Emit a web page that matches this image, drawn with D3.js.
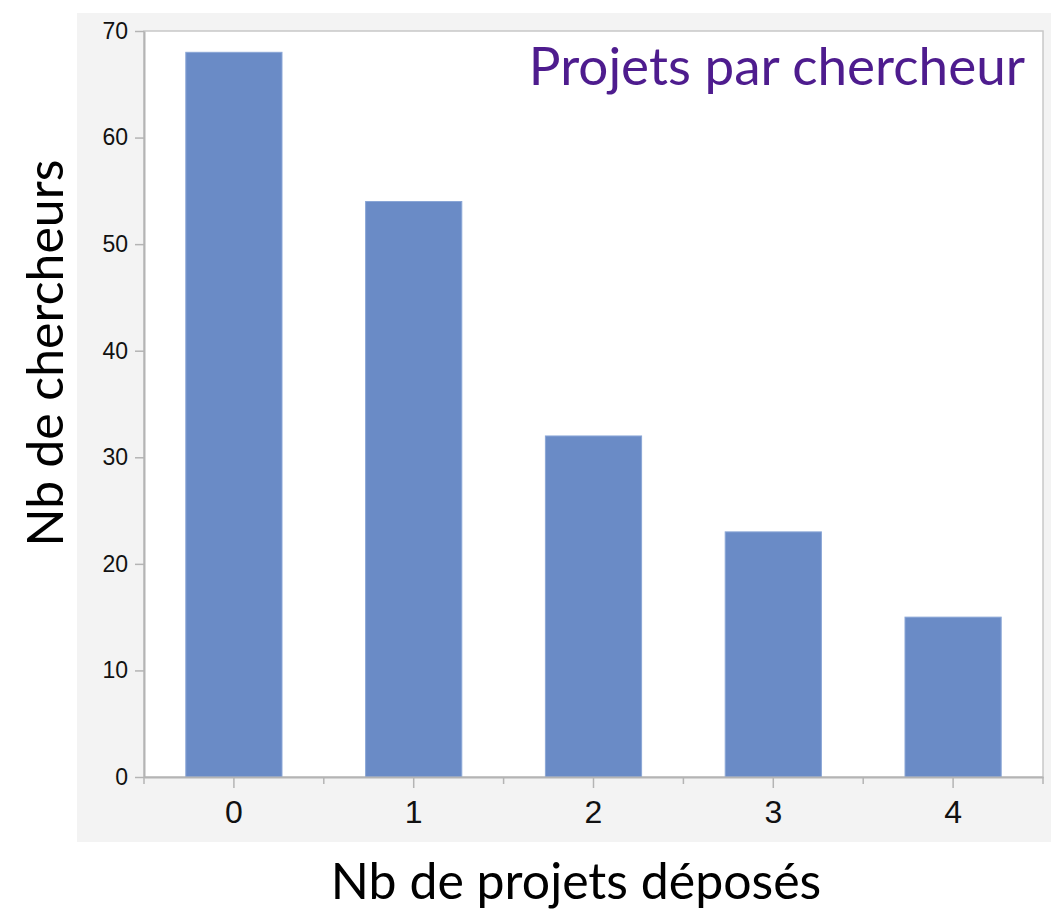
<!DOCTYPE html>
<html><head><meta charset="utf-8">
<script src="https://cdn.jsdelivr.net/npm/d3@7"></script>
<style>body{margin:0;background:#fff}svg{display:block}</style>
</head><body>
<svg id="c" width="1051" height="913"></svg>
<script>
const categories = ["0","1","2","3","4"];
const values = [68, 54, 32, 23, 15];
const yTicks = [0,10,20,30,40,50,60,70];
const title = "Projets par chercheur";
const xTitle = "Nb de projets déposés";
const yTitle = "Nb de chercheurs";

const svg = d3.select("#c");
const m = {l:144, r:1043, t:31, b:777};
svg.append("rect").attr("x",77).attr("y",13).attr("width",974).attr("height",829).attr("fill","#f3f3f3");
svg.append("rect").attr("x",m.l).attr("y",m.t).attr("width",m.r-m.l).attr("height",m.b-m.t).attr("fill","#fff").attr("stroke","#c8c8c8").attr("stroke-width",1.5);

const x = d3.scaleBand().domain(categories).range([m.l,m.r]).paddingInner(0.465).paddingOuter(0.2325);
const y = d3.scaleLinear().domain([0,70]).range([m.b,m.t]);

svg.selectAll("rect.bar").data(values).join("rect").attr("class","bar")
  .attr("x",(d,i)=>x(categories[i])).attr("width",x.bandwidth())
  .attr("y",d=>y(d)).attr("height",d=>y(0)-y(d))
  .attr("fill","#6a8bc6").attr("stroke","#8aa6d6").attr("stroke-width",1);

const ya = svg.append("g").attr("transform",`translate(${m.l},0)`)
  .call(d3.axisLeft(y).tickValues(yTicks).tickSize(11).tickPadding(5).tickSizeOuter(0));
ya.select(".domain").attr("stroke","#b4b4b4").attr("stroke-width",2);
ya.selectAll(".tick line").attr("stroke","#b4b4b4").attr("stroke-width",1.5).attr("x2",-9);
ya.selectAll(".tick text").attr("font-family","Liberation Sans, Arial, sans-serif").attr("font-size",23).attr("fill","#111");

const xa = svg.append("g").attr("transform",`translate(0,${m.b})`)
  .call(d3.axisBottom(x).tickSize(11).tickPadding(12).tickSizeOuter(0));
xa.select(".domain").attr("stroke","#b4b4b4").attr("stroke-width",2);
xa.selectAll(".tick line").attr("stroke","#b4b4b4").attr("stroke-width",1.5);
xa.selectAll(".tick text").attr("font-family","Liberation Sans, Arial, sans-serif").attr("font-size",32).attr("fill","#111");
// boundary ticks between categories
const bounds = d3.range(categories.length+1).map(i => i===0 ? m.l : (i===categories.length ? m.r : (x(categories[i-1])+x.bandwidth()+x(categories[i]))/2));
xa.selectAll("line.b").data(bounds).join("line").attr("class","b")
  .attr("x1",d=>d).attr("x2",d=>d).attr("y1",0).attr("y2",7)
  .attr("stroke","#b4b4b4").attr("stroke-width",1.5);

svg.append("text").attr("x",1025).attr("y",85).attr("text-anchor","end")
  .attr("font-family","Lato, sans-serif").attr("font-size",53).attr("fill","#4e1c8e").text(title);
svg.append("text").attr("x",576).attr("y",899).attr("text-anchor","middle")
  .attr("font-family","Lato, sans-serif").attr("font-size",50).attr("fill","#000").text(xTitle);
svg.append("text").attr("transform","translate(63,353) rotate(-90)").attr("text-anchor","middle")
  .attr("font-family","Lato, sans-serif").attr("font-size",50).attr("fill","#000").text(yTitle);
</script>
</body></html>
